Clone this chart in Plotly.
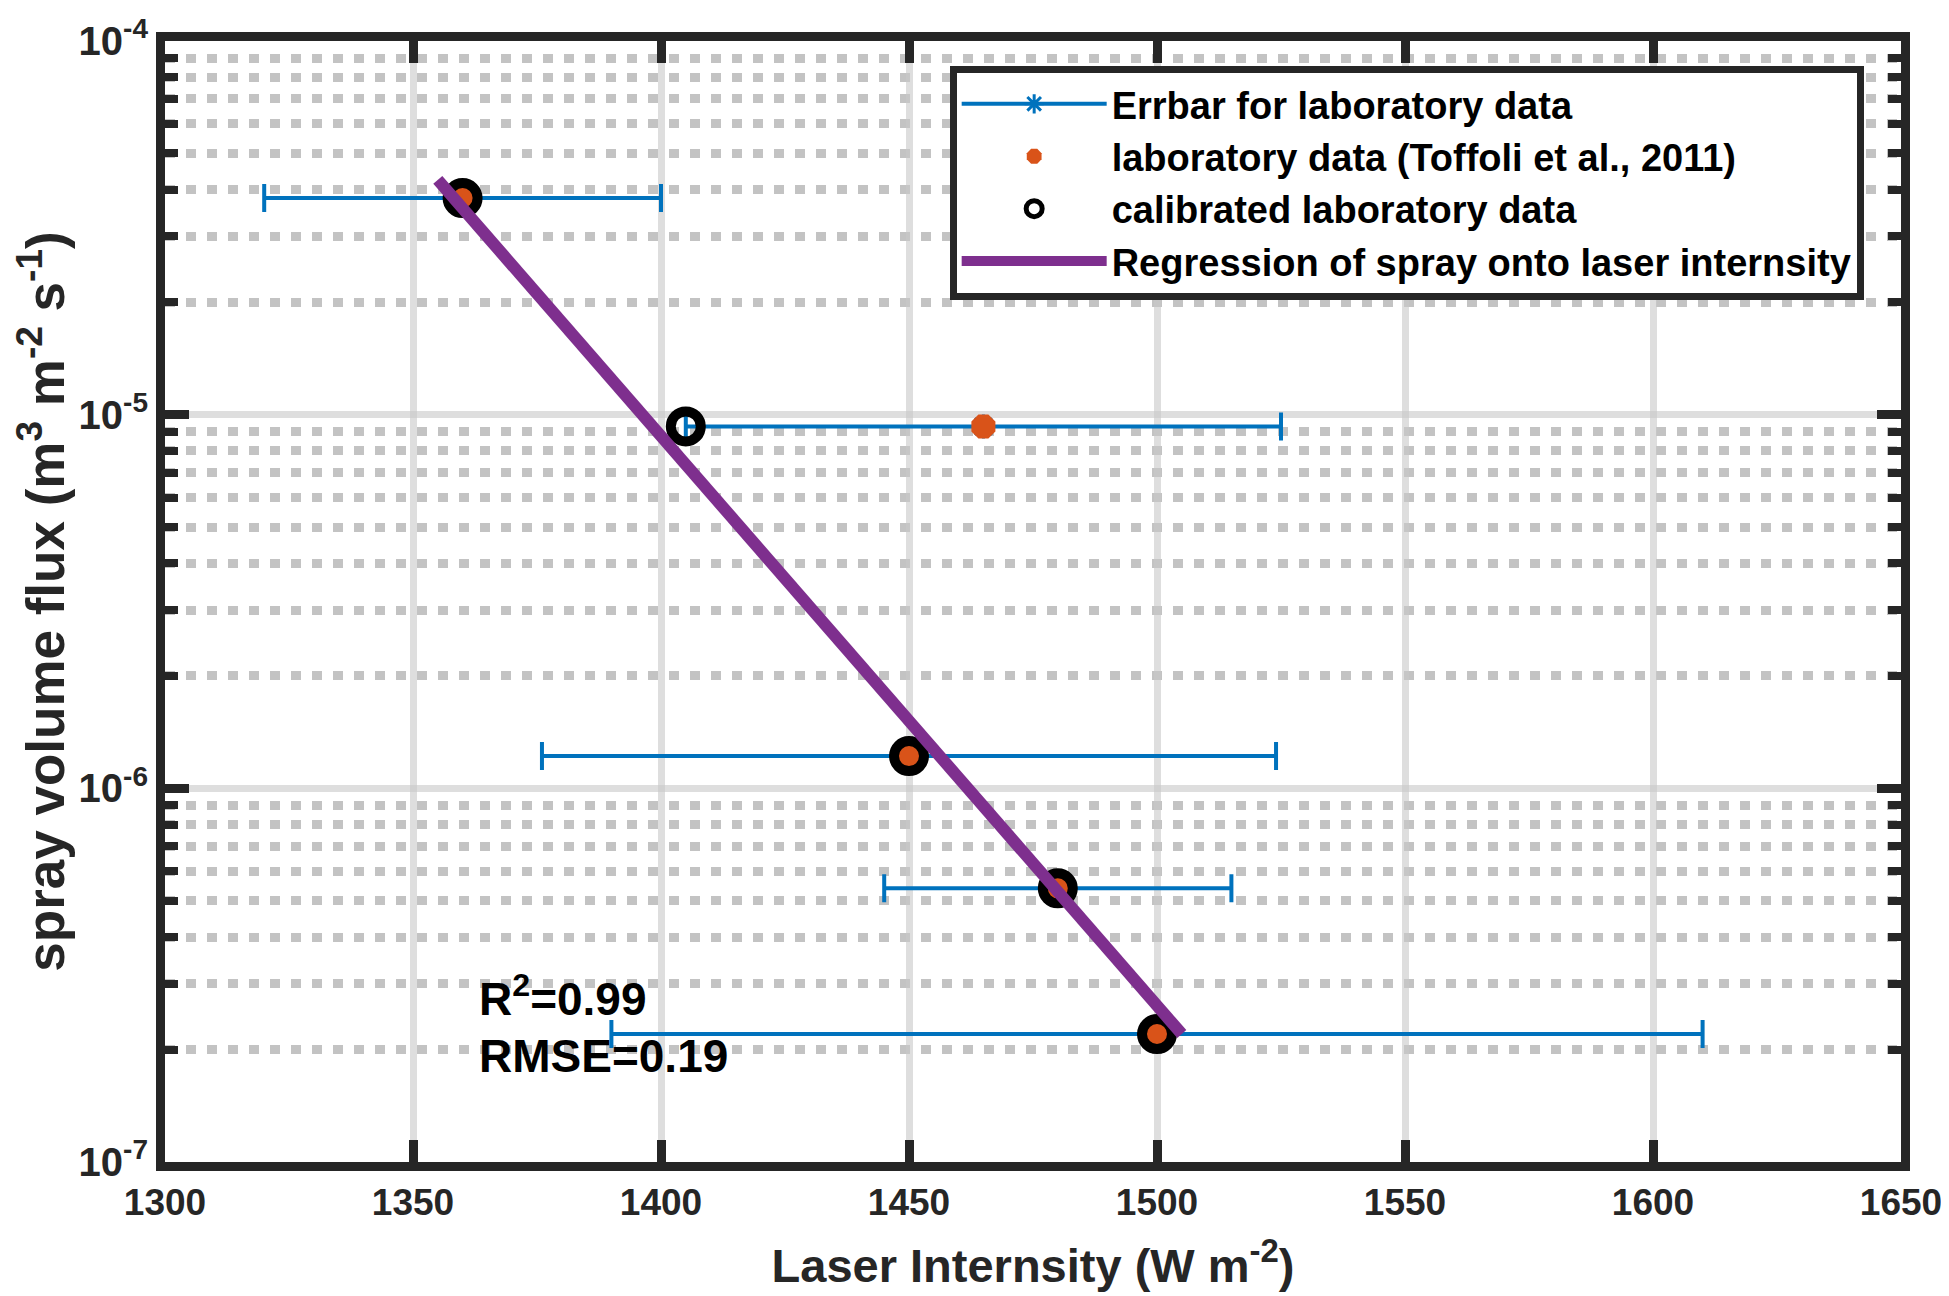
import plotly.graph_objects as go

# laboratory data (Toffoli et al., 2011) and its x error
lab_x = [1360, 1465, 1450, 1480, 1500]
lab_y = [3.8e-5, 9.3e-6, 1.22e-6, 5.4e-7, 2.2e-7]
lab_err = [40, 60, 74, 35, 110]

# calibrated laboratory data
cal_x = [1360, 1405, 1450, 1480, 1500]
cal_y = [3.8e-5, 9.3e-6, 1.22e-6, 5.4e-7, 2.2e-7]

# regression of spray onto laser intensity (end points)
reg_x = [1355, 1505]
reg_y = [4.25e-5, 2.2e-7]

y_ticks = [1e-7, 1e-6, 1e-5, 1e-4]
y_ticktext = ["10<sup>-7</sup>", "10<sup>-6</sup>", "10<sup>-5</sup>", "10<sup>-4</sup>"]
y_minor = [m * 10.0 ** e for e in (-7, -6, -5) for m in range(2, 10)]

FONT = "Liberation Sans, Arial, sans-serif"
FRAME = "#262626"
BLUE = "#0072BD"
ORANGE = "#D95319"
PURPLE = "#7E2F8E"

fig = go.Figure()

# error bars (legend-less trace; the legend icon comes from a dummy trace)
fig.add_trace(go.Scatter(
    x=lab_x, y=lab_y, mode="markers", showlegend=False,
    marker=dict(symbol="asterisk-open", size=20, color=BLUE, line=dict(width=3, color=BLUE)),
    error_x=dict(type="data", array=lab_err, color=BLUE, thickness=4, width=14),
))
fig.add_trace(go.Scatter(
    x=[None], y=[None], mode="lines+markers", name="Errbar for laboratory data",
    line=dict(color=BLUE, width=4),
    marker=dict(symbol="asterisk-open", size=18, color=BLUE, line=dict(width=3, color=BLUE)),
))
fig.add_trace(go.Scatter(
    x=lab_x, y=lab_y, mode="markers", name="laboratory data (Toffoli et al., 2011)",
    marker=dict(symbol="octagon", size=26, color=ORANGE, line=dict(width=0)),
))
fig.add_trace(go.Scatter(
    x=cal_x, y=cal_y, mode="markers", name="calibrated laboratory data",
    marker=dict(symbol="circle-open", size=30, color="black", line=dict(width=10, color="black")),
))
fig.add_trace(go.Scatter(
    x=reg_x, y=reg_y, mode="lines", name="Regression of spray onto laser internsity",
    line=dict(color=PURPLE, width=12),
))

fig.add_annotation(x=1363, y=-6.555, xref="x", yref="y", text="R<sup>2</sup>=0.99",
                   showarrow=False, xanchor="left", yanchor="middle",
                   font=dict(family=FONT, size=46, color="black", weight="bold"))
fig.add_annotation(x=1363, y=-6.715, xref="x", yref="y", text="RMSE=0.19",
                   showarrow=False, xanchor="left", yanchor="middle",
                   font=dict(family=FONT, size=46, color="black", weight="bold"))

fig.update_layout(
    width=1949, height=1296,
    margin=dict(l=157, r=56, t=33, b=142, autoexpand=False),
    paper_bgcolor="white", plot_bgcolor="white",
    font=dict(family=FONT, size=40, color=FRAME, weight="bold"),
    legend=dict(
        x=0.452, y=0.978, xanchor="left", yanchor="top",
        bgcolor="white", bordercolor=FRAME, borderwidth=7,
        font=dict(family=FONT, size=38, color="black", weight="bold"),
        tracegroupgap=0, itemwidth=145,
    ),
)

fig.update_xaxes(
    range=[1300, 1650], dtick=50, tick0=1300,
    showline=True, linecolor=FRAME, linewidth=9, mirror="ticks",
    ticks="inside", ticklen=22, tickwidth=9, tickcolor=FRAME,
    showgrid=True, gridcolor="rgba(200,200,200,0.6)", gridwidth=7,
    zeroline=False, ticklabeloverflow="allow", automargin=False,
    tickfont=dict(family=FONT, size=37, color=FRAME, weight="bold"),
    title=dict(text="Laser Internsity (W m<sup>-2</sup>)", standoff=30,
               font=dict(family=FONT, size=47, color=FRAME, weight="bold")),
)
fig.update_yaxes(
    type="log", range=[-7, -4],
    tickmode="array", tickvals=y_ticks, ticktext=y_ticktext,
    showline=True, linecolor=FRAME, linewidth=9, mirror="ticks",
    ticks="inside", ticklen=24, tickwidth=9, tickcolor=FRAME,
    showgrid=True, gridcolor="rgba(200,200,200,0.6)", gridwidth=7,
    zeroline=False, ticklabeloverflow="allow", automargin=False,
    minor=dict(tickmode="array", tickvals=y_minor, ticks="inside", ticklen=13,
               tickwidth=8, tickcolor=FRAME, showgrid=True,
               gridcolor="rgba(170,170,170,0.7)", gridwidth=9, griddash="10px,11px"),
    tickfont=dict(family=FONT, size=40, color=FRAME, weight="bold"),
    title=dict(text="spray volume flux (m<sup>3</sup> m<sup>-2</sup> s<sup>-1</sup>)", standoff=18,
               font=dict(family=FONT, size=53, color=FRAME, weight="bold")),
)

fig.write_html("out.html")
